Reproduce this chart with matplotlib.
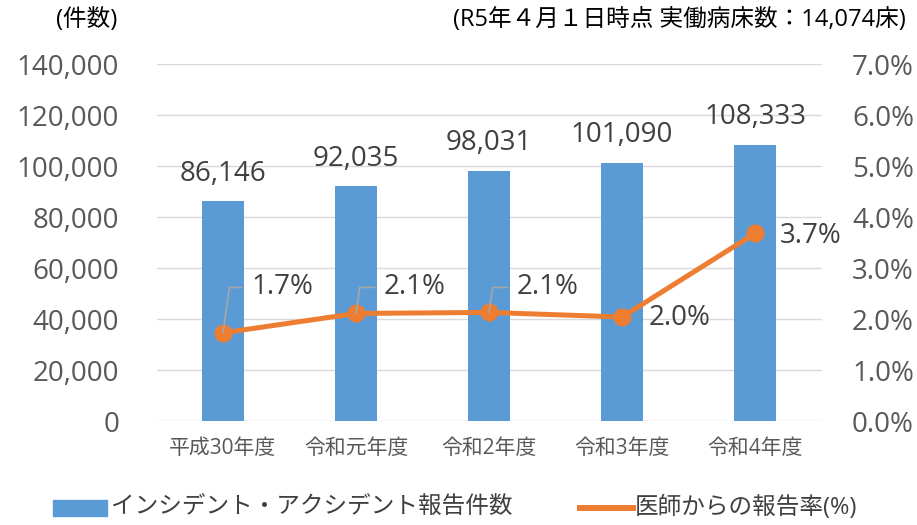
import matplotlib.pyplot as plt
import numpy as np

plt.rcParams['font.family'] = ['Open Sans', 'Noto Sans CJK JP', 'DejaVu Sans']

# データ
years = ['平成30年度', '令和元年度', '令和2年度', '令和3年度', '令和4年度']
reports = [86146, 92035, 98031, 101090, 108333]
doctor_rate = [1.73, 2.11, 2.13, 2.04, 3.68]

bar_color = '#5B9BD5'
line_color = '#ED7D31'
text_color = '#404040'
tick_color = '#595959'

fig = plt.figure(figsize=(9.17, 5.25), dpi=100)
ax = fig.add_axes([0.1707, 0.198, 0.7252, 0.680])
ax2 = ax.twinx()

x = np.arange(len(years))
ax.bar(x, reports, width=0.32, color=bar_color, zorder=2)
ax.set_xlim(-0.5, len(years) - 0.5)
ax.set_ylim(0, 140000)
ax.set_yticks(np.arange(0, 140001, 20000))
ax.set_yticklabels([f'{v:,}' for v in range(0, 140001, 20000)])
ax.grid(axis='y', color='#D9D9D9', linewidth=1, zorder=0)
ax.set_axisbelow(True)
ax.set_xticks(x)
ax.set_xticklabels(years, fontsize=15, color=tick_color)
ax.tick_params(axis='y', labelsize=20, colors=tick_color, length=0, pad=27)
ax.tick_params(axis='x', length=0, pad=12)

for xi, v in zip(x, reports):
    ax.annotate(f'{v:,}', (xi, v), xytext=(0, 15), textcoords='offset points',
                ha='center', va='baseline', fontsize=20, color=text_color)

ax2.plot(x, doctor_rate, color=line_color, linewidth=3.6, marker='o',
         markersize=12, zorder=3)
ax2.set_ylim(0, 7)
ax2.set_yticks(np.arange(0, 7.01, 1))
ax2.set_yticklabels([f'{v:.1f}%' for v in np.arange(0, 7.01, 1)])
ax2.tick_params(axis='y', labelsize=20, colors=tick_color, length=0, pad=22)

# 率のラベル
for i in range(3):
    ax2.annotate('', xy=(x[i], doctor_rate[i]), xytext=(x[i] + 0.14, 2.62),
                 arrowprops=dict(arrowstyle='-', color='#A6A6A6', lw=1.2,
                                 connectionstyle='angle,angleA=0,angleB=82,rad=0',
                                 shrinkA=0, shrinkB=0))
    ax2.text(x[i] + 0.21, 2.62, f'{doctor_rate[i]:.1f}%', fontsize=20,
             color=text_color, ha='left', va='center')
ax2.annotate(f'{doctor_rate[3]:.1f}%', (x[3], doctor_rate[3]), xytext=(19, -1),
             textcoords='offset points', ha='left', va='center', fontsize=20,
             color=text_color)
ax2.annotate(f'{doctor_rate[4]:.1f}%', (x[4], doctor_rate[4]), xytext=(18, -2),
             textcoords='offset points', ha='left', va='center', fontsize=20,
             color=text_color)

for a in (ax, ax2):
    for s in a.spines.values():
        s.set_visible(False)

fig.text(0.061, 0.962, '(件数)', fontsize=17, color='black', va='center')
fig.text(0.988, 0.962, '(R5年４月１日時点 実働病床数：14,074床)', fontsize=17,
         color='black', va='center', ha='right')

# 凡例
fig.patches.append(plt.Rectangle((0.0578, 0.0171), 0.0589, 0.0305, color=bar_color,
                                 transform=fig.transFigure, figure=fig))
fig.text(0.121, 0.032, 'インシデント・アクシデント報告件数', fontsize=17,
         color=text_color, va='center')
fig.add_artist(plt.Line2D([0.632, 0.690], [0.032, 0.032], color=line_color,
                          linewidth=4.3, transform=fig.transFigure))
fig.text(0.692, 0.032, '医師からの報告率(%)', fontsize=17, color=text_color,
         va='center')

plt.savefig('out.png', dpi=100)
